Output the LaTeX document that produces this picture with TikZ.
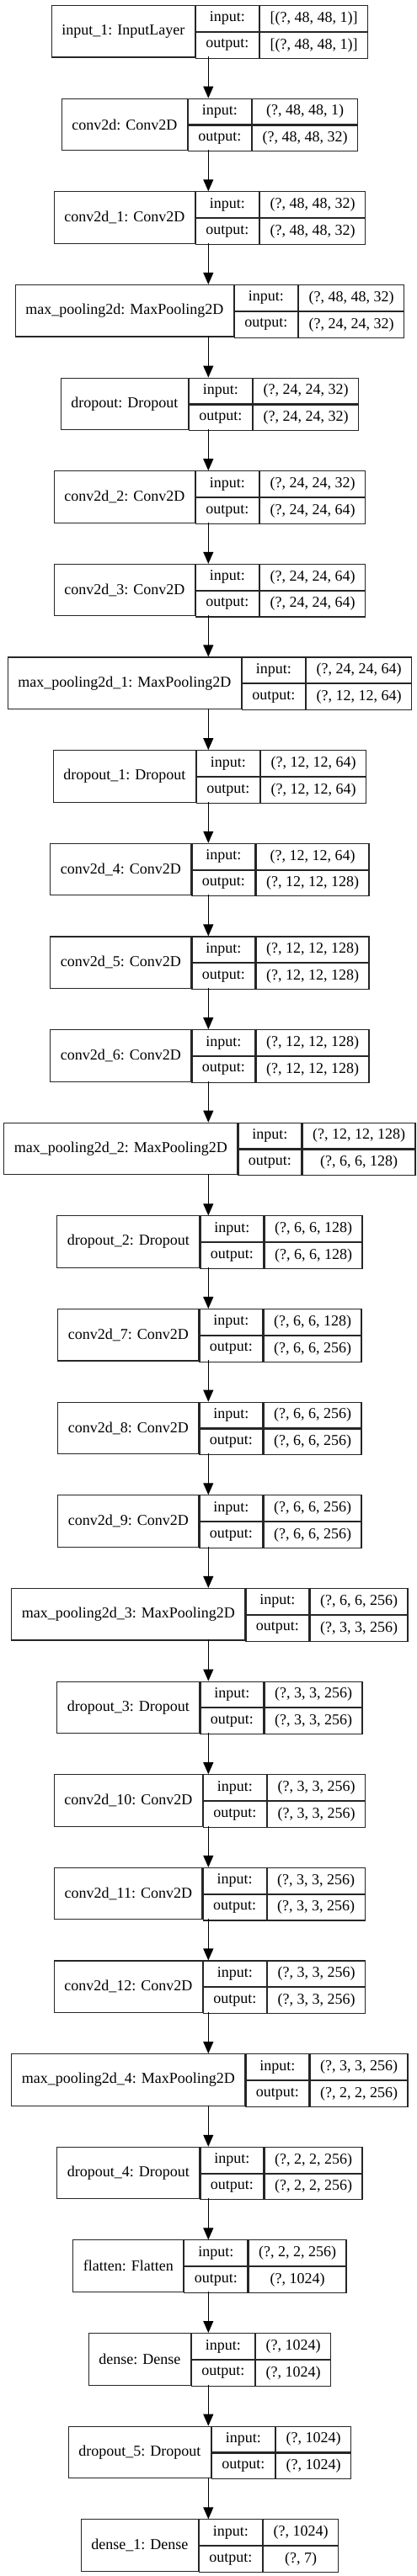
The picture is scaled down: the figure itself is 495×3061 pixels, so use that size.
\documentclass[tikz,border=0pt]{standalone}
\usepackage{fontspec}
\setmainfont{Liberation Serif}
\usetikzlibrary{arrows.meta}
\newdimen\lwa
\newdimen\lwb
\newdimen\lwc
\newdimen\lwd
\newcommand\lfont{\fontsize{18pt}{21pt}\selectfont}
\tikzset{
  cell/.style={draw=black!85, line width=1.1pt, inner sep=0pt, font=\lfont,
    anchor=north west, minimum height=30.75pt},
  namecell/.style={cell, minimum height=61.5pt},
  arr/.style={draw=black, line width=1.1pt, -{Triangle[length=14pt,width=12pt]}},
}
\newcommand\layerbox[5]{%
  \pgfinterruptpicture
  \setbox0=\hbox{\lfont #3}\global\lwa=\wd0
  \setbox0=\hbox{\lfont output:}\global\lwb=\wd0
  \setbox0=\hbox{\lfont #4}\global\lwc=\wd0
  \setbox0=\hbox{\lfont #5}\global\lwd=\wd0
  \endpgfinterruptpicture
  \advance\lwa by 24pt
  \advance\lwb by 24pt
  \ifdim\lwd>\lwc \lwc=\lwd\fi
  \advance\lwc by 24pt
  \lwd=\lwa \advance\lwd by \lwb \advance\lwd by \lwc
  \pgfmathsetmacro\Lx{247.3-0.5*\lwd}%
  \pgfmathsetmacro\Ly{-(6+#2*110.64)}%
  \pgfmathsetmacro\Lb{\Ly-61.5}%
  \node[namecell, minimum width=\the\lwa] (#1) at (\Lx pt,\Ly pt) {#3};
  \node[cell, minimum width=\the\lwb] (#1-ik) at (#1.north east) {input:};
  \node[cell, minimum width=\the\lwb] (#1-ok) at (#1-ik.south west) {output:};
  \node[cell, minimum width=\the\lwc] (#1-iv) at (#1-ik.north east) {#4};
  \node[cell, minimum width=\the\lwc] (#1-ov) at (#1-iv.south west) {#5};
  \coordinate (#1-top) at (247.3pt,\Ly pt);
  \coordinate (#1-bot) at (247.3pt,\Lb pt);
}
\begin{document}
\begin{tikzpicture}
\useasboundingbox (0,0) rectangle (495pt,-3061pt);
\layerbox{L0}{0}{input\_1: InputLayer}{[(?, 48, 48, 1)]}{[(?, 48, 48, 1)]}
\layerbox{L1}{1}{conv2d: Conv2D}{(?, 48, 48, 1)}{(?, 48, 48, 32)}
\layerbox{L2}{2}{conv2d\_1: Conv2D}{(?, 48, 48, 32)}{(?, 48, 48, 32)}
\layerbox{L3}{3}{max\_pooling2d: MaxPooling2D}{(?, 48, 48, 32)}{(?, 24, 24, 32)}
\layerbox{L4}{4}{dropout: Dropout}{(?, 24, 24, 32)}{(?, 24, 24, 32)}
\layerbox{L5}{5}{conv2d\_2: Conv2D}{(?, 24, 24, 32)}{(?, 24, 24, 64)}
\layerbox{L6}{6}{conv2d\_3: Conv2D}{(?, 24, 24, 64)}{(?, 24, 24, 64)}
\layerbox{L7}{7}{max\_pooling2d\_1: MaxPooling2D}{(?, 24, 24, 64)}{(?, 12, 12, 64)}
\layerbox{L8}{8}{dropout\_1: Dropout}{(?, 12, 12, 64)}{(?, 12, 12, 64)}
\layerbox{L9}{9}{conv2d\_4: Conv2D}{(?, 12, 12, 64)}{(?, 12, 12, 128)}
\layerbox{L10}{10}{conv2d\_5: Conv2D}{(?, 12, 12, 128)}{(?, 12, 12, 128)}
\layerbox{L11}{11}{conv2d\_6: Conv2D}{(?, 12, 12, 128)}{(?, 12, 12, 128)}
\layerbox{L12}{12}{max\_pooling2d\_2: MaxPooling2D}{(?, 12, 12, 128)}{(?, 6, 6, 128)}
\layerbox{L13}{13}{dropout\_2: Dropout}{(?, 6, 6, 128)}{(?, 6, 6, 128)}
\layerbox{L14}{14}{conv2d\_7: Conv2D}{(?, 6, 6, 128)}{(?, 6, 6, 256)}
\layerbox{L15}{15}{conv2d\_8: Conv2D}{(?, 6, 6, 256)}{(?, 6, 6, 256)}
\layerbox{L16}{16}{conv2d\_9: Conv2D}{(?, 6, 6, 256)}{(?, 6, 6, 256)}
\layerbox{L17}{17}{max\_pooling2d\_3: MaxPooling2D}{(?, 6, 6, 256)}{(?, 3, 3, 256)}
\layerbox{L18}{18}{dropout\_3: Dropout}{(?, 3, 3, 256)}{(?, 3, 3, 256)}
\layerbox{L19}{19}{conv2d\_10: Conv2D}{(?, 3, 3, 256)}{(?, 3, 3, 256)}
\layerbox{L20}{20}{conv2d\_11: Conv2D}{(?, 3, 3, 256)}{(?, 3, 3, 256)}
\layerbox{L21}{21}{conv2d\_12: Conv2D}{(?, 3, 3, 256)}{(?, 3, 3, 256)}
\layerbox{L22}{22}{max\_pooling2d\_4: MaxPooling2D}{(?, 3, 3, 256)}{(?, 2, 2, 256)}
\layerbox{L23}{23}{dropout\_4: Dropout}{(?, 2, 2, 256)}{(?, 2, 2, 256)}
\layerbox{L24}{24}{flatten: Flatten}{(?, 2, 2, 256)}{(?, 1024)}
\layerbox{L25}{25}{dense: Dense}{(?, 1024)}{(?, 1024)}
\layerbox{L26}{26}{dropout\_5: Dropout}{(?, 1024)}{(?, 1024)}
\layerbox{L27}{27}{dense\_1: Dense}{(?, 1024)}{(?, 7)}
\foreach \a/\b in {0/1,1/2,2/3,3/4,4/5,5/6,6/7,7/8,8/9,9/10,10/11,11/12,12/13,13/14,
  14/15,15/16,16/17,17/18,18/19,19/20,20/21,21/22,22/23,23/24,24/25,25/26,26/27}
  \draw[arr] (L\a-bot) -- (L\b-top);
\end{tikzpicture}
\end{document}
